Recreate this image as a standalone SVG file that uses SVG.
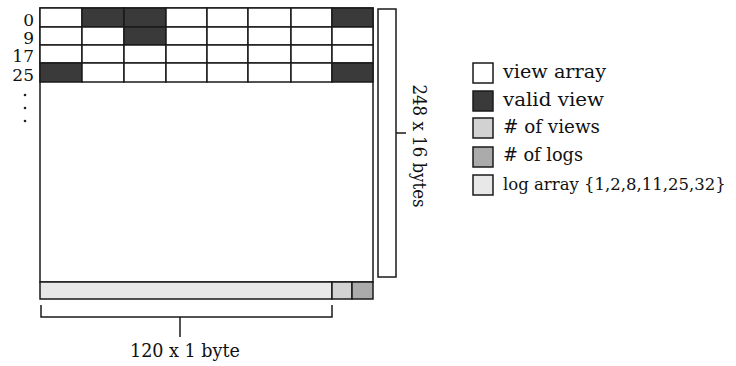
<svg xmlns="http://www.w3.org/2000/svg" width="736" height="366" viewBox="0 0 736 366">
<style>
.ln{fill:none;stroke:#1a1a1a;stroke-width:1.5}
.cell{fill:#fff;stroke:#1a1a1a;stroke-width:1.5}
.dark{fill:#3a3a3a;stroke:#1a1a1a;stroke-width:1.5}
.logarr{fill:#e8e8e8;stroke:#1a1a1a;stroke-width:1.5}
.views{fill:#d2d2d2;stroke:#1a1a1a;stroke-width:1.5}
.logs{fill:#ababab;stroke:#1a1a1a;stroke-width:1.5}
text{font-family:"DejaVu Serif","Liberation Serif",serif;fill:#111}
.lab{font-size:17px;text-anchor:end}
.leg{font-size:18px}
</style>
<g id="grid">
<rect x="40" y="8" width="333" height="274" class="cell"/>
<g id="row0">
<rect x="40" y="8" width="42" height="19" class="cell"/>
<rect x="82" y="8" width="42" height="19" class="dark"/>
<rect x="124" y="8" width="42" height="19" class="dark"/>
<rect x="166" y="8" width="41" height="19" class="cell"/>
<rect x="207" y="8" width="41" height="19" class="cell"/>
<rect x="248" y="8" width="43" height="19" class="cell"/>
<rect x="291" y="8" width="41" height="19" class="cell"/>
<rect x="332" y="8" width="41" height="19" class="dark"/>
</g>
<g id="row1">
<rect x="40" y="27" width="42" height="18" class="cell"/>
<rect x="82" y="27" width="42" height="18" class="cell"/>
<rect x="124" y="27" width="42" height="18" class="dark"/>
<rect x="166" y="27" width="41" height="18" class="cell"/>
<rect x="207" y="27" width="41" height="18" class="cell"/>
<rect x="248" y="27" width="43" height="18" class="cell"/>
<rect x="291" y="27" width="41" height="18" class="cell"/>
<rect x="332" y="27" width="41" height="18" class="cell"/>
</g>
<g id="row2">
<rect x="40" y="45" width="42" height="18" class="cell"/>
<rect x="82" y="45" width="42" height="18" class="cell"/>
<rect x="124" y="45" width="42" height="18" class="cell"/>
<rect x="166" y="45" width="41" height="18" class="cell"/>
<rect x="207" y="45" width="41" height="18" class="cell"/>
<rect x="248" y="45" width="43" height="18" class="cell"/>
<rect x="291" y="45" width="41" height="18" class="cell"/>
<rect x="332" y="45" width="41" height="18" class="cell"/>
</g>
<g id="row3">
<rect x="40" y="63" width="42" height="19" class="dark"/>
<rect x="82" y="63" width="42" height="19" class="cell"/>
<rect x="124" y="63" width="42" height="19" class="cell"/>
<rect x="166" y="63" width="41" height="19" class="cell"/>
<rect x="207" y="63" width="41" height="19" class="cell"/>
<rect x="248" y="63" width="43" height="19" class="cell"/>
<rect x="291" y="63" width="41" height="19" class="cell"/>
<rect x="332" y="63" width="41" height="19" class="dark"/>
</g>
</g>
<g id="labels">
<text x="34" y="26" class="lab">0</text>
<text x="34" y="44" class="lab">9</text>
<text x="34" y="62" class="lab">17</text>
<text x="34" y="81" class="lab">25</text>
<circle cx="25" cy="95" r="1.3" fill="#222"/>
<circle cx="25" cy="108" r="1.3" fill="#222"/>
<circle cx="25" cy="121" r="1.3" fill="#222"/>
</g>
<g id="logbar">
<rect x="40" y="282" width="292" height="17" class="logarr"/>
<rect x="332" y="282" width="20" height="17" class="views"/>
<rect x="352" y="282" width="21" height="17" class="logs"/>
</g>
<g id="brackets">
<rect x="378" y="9" width="18" height="268" class="ln"/>
<line x1="396" y1="133" x2="406" y2="133" class="ln"/>
<text transform="translate(413,146) rotate(90)" text-anchor="middle" font-size="18" textLength="123" lengthAdjust="spacingAndGlyphs">248 x 16 bytes</text>
<path d="M41,305 V317 H332 V305" class="ln"/>
<line x1="180" y1="317" x2="180" y2="337" class="ln"/>
<text x="185" y="357" text-anchor="middle" font-size="18" textLength="110" lengthAdjust="spacingAndGlyphs">120 x 1 byte</text>
</g>
<g id="legend">
<rect x="473" y="63" width="20" height="20" class="cell"/>
<text x="503" y="78" class="leg" textLength="103" lengthAdjust="spacingAndGlyphs">view array</text>
<rect x="473" y="91" width="20" height="20" class="dark"/>
<text x="503" y="106" class="leg" textLength="101" lengthAdjust="spacingAndGlyphs">valid view</text>
<rect x="473" y="118" width="20" height="20" class="views"/>
<text x="503" y="133" class="leg" textLength="97" lengthAdjust="spacingAndGlyphs"># of views</text>
<rect x="473" y="147" width="20" height="20" class="logs"/>
<text x="503" y="161" class="leg" textLength="80" lengthAdjust="spacingAndGlyphs"># of logs</text>
<rect x="473" y="175" width="20" height="20" class="logarr"/>
<text x="503" y="190" font-size="16.5">log array {1,2,8,11,25,32}</text>
</g>
</svg>
